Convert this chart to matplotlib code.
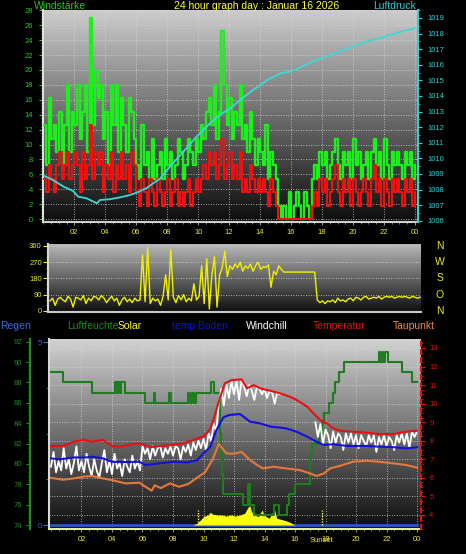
import numpy as np
import matplotlib
matplotlib.use("Agg")
import matplotlib.pyplot as plt
from matplotlib.ticker import MultipleLocator, FixedLocator
from matplotlib.transforms import blended_transform_factory as blend

plt.rcParams['font.family'] = ['Liberation Sans', 'DejaVu Sans']

# ---------------- data ----------------
hour_ticks = [2, 4, 6, 8, 10, 12, 14, 16, 18, 20, 22, 24]
hour_labels = ['02', '04', '06', '08', '10', '12', '14', '16', '18', '20', '22', '00']

# wind gust (green) / average wind (red), km/h, every 10 minutes
gust = [12.6, 7.2, 16.2, 10.8, 12.6, 9.0,
        14.4, 7.2, 12.6, 18.0, 9.0, 14.4,
        12.6, 18.0, 10.8, 14.4, 18.0, 9.0,
        27.0, 12.6, 19.8, 16.2, 18.0, 10.8,
        14.4, 7.2, 18.0, 12.6, 18.0, 9.0,
        16.2, 12.6, 9.0, 16.2, 14.4, 10.8,
        7.2, 5.4, 12.6, 7.2, 9.0, 5.4,
        10.8, 5.4, 7.2, 9.0, 5.4, 10.8,
        7.2, 9.0, 5.4, 7.2, 10.8, 9.0,
        5.4, 7.2, 10.8, 9.0, 7.2, 10.8,
        9.0, 12.6, 10.8, 14.4, 16.2, 12.6,
        18.0, 10.8, 14.4, 25.2, 18.0, 12.6,
        16.2, 10.8, 14.4, 12.6, 18.0, 10.8,
        12.6, 9.0, 14.4, 10.8, 7.2, 10.8,
        9.0, 7.2, 12.6, 5.4, 9.0, 7.2,
        5.4, 1.8, 0.0, 1.8, 0.0, 3.6,
        0.0, 1.8, 3.6, 1.8, 0.0, 3.6,
        1.8, 0.0, 5.4, 7.2, 5.4, 9.0,
        7.2, 9.0, 5.4, 7.2, 9.0, 10.8,
        7.2, 5.4, 9.0, 7.2, 9.0, 5.4,
        10.8, 7.2, 9.0, 5.4, 7.2, 9.0,
        5.4, 9.0, 10.8, 7.2, 9.0, 5.4,
        10.8, 7.2, 5.4, 9.0, 7.2, 9.0,
        7.2, 5.4, 9.0, 7.2, 9.0, 5.4,
        7.2]
wind_avg = [5.4, 3.6, 7.2, 5.4, 3.6, 7.2,
            9.0, 5.4, 7.2, 9.0, 5.4, 7.2,
            9.0, 7.2, 3.6, 9.0, 5.4, 7.2,
            12.6, 5.4, 9.0, 7.2, 9.0, 3.6,
            7.2, 5.4, 9.0, 3.6, 7.2, 5.4,
            9.0, 5.4, 7.2, 3.6, 9.0, 7.2,
            3.6, 1.8, 5.4, 3.6, 1.8, 5.4,
            3.6, 1.8, 5.4, 3.6, 1.8, 3.6,
            5.4, 1.8, 3.6, 5.4, 1.8, 3.6,
            1.8, 3.6, 5.4, 1.8, 3.6, 5.4,
            3.6, 5.4, 7.2, 5.4, 9.0, 7.2,
            9.0, 5.4, 7.2, 10.8, 5.4, 7.2,
            9.0, 5.4, 7.2, 5.4, 9.0, 3.6,
            5.4, 3.6, 7.2, 5.4, 3.6, 5.4,
            3.6, 5.4, 3.6, 1.8, 5.4, 3.6,
            1.8, 0.0, 0.0, 0.0, 0.0, 0.0,
            0.0, 0.0, 0.0, 0.0, 0.0, 0.0,
            0.0, 0.0, 1.8, 3.6, 1.8, 5.4,
            3.6, 5.4, 1.8, 3.6, 5.4, 7.2,
            3.6, 1.8, 5.4, 3.6, 5.4, 1.8,
            5.4, 3.6, 1.8, 3.6, 5.4, 3.6,
            1.8, 5.4, 7.2, 3.6, 5.4, 1.8,
            5.4, 3.6, 1.8, 5.4, 3.6, 5.4,
            3.6, 1.8, 5.4, 3.6, 5.4, 1.8,
            3.6]

# pressure (hPa)
press_t = [0, 0.63, 1.28, 1.93, 2.25, 2.79, 3.44, 3.65, 4.3, 4.94, 5.59, 6.02,
           6.67, 7.09, 7.53, 8.17, 9.24, 9.9, 10.76, 11.4, 12.07, 12.7, 13.57,
           14.43, 15.3, 15.9, 16.5, 17.37, 18.23, 19.1, 19.96, 20.8, 21.7,
           22.56, 23.4, 24.0]
press_v = [1008.9, 1008.6, 1008.2, 1007.9, 1007.54, 1007.44, 1007.12, 1007.33,
           1007.38, 1007.5, 1007.65, 1007.8, 1008.1, 1008.4, 1008.7, 1009.47,
           1010.65, 1011.4, 1012.25, 1012.8, 1013.2, 1013.74, 1014.4, 1015.0,
           1015.45, 1015.55, 1015.78, 1016.2, 1016.5, 1016.84, 1017.16,
           1017.48, 1017.7, 1017.97, 1018.19, 1018.34]

# wind direction (degrees), every 10 minutes
wind_dir = [55, 70, 30, 65, 75, 60,
            50, 80, 65, 20, 75, 70,
            60, 85, 40, 70, 55, 80,
            75, 60, 85, 70, 45, 65,
            80, 55, 70, 30, 60, 75,
            50, 65, 45, 70, 55, 60,
            310, 50, 350, 40, 70, 55,
            65, 30, 80, 200, 60, 340,
            75, 45, 85, 60, 90, 50,
            70, 55, 150, 60, 80, 250,
            40, 290, 10, 200, 300, 20,
            200, 240, 330, 190, 250, 230,
            260, 240, 270, 220, 250, 235,
            260, 220, 250, 270, 230, 245,
            240, 255, 130, 220, 200, 250,
            230, 215, 215, 215, 215, 215,
            215, 215, 215, 215, 215, 215,
            215, 215, 60, 45, 55, 40,
            55, 50, 60, 45, 70, 55,
            60, 50, 65, 70, 55, 75,
            70, 60, 75, 80, 65, 70,
            75, 70, 80, 65, 75, 80,
            75, 80, 70, 75, 80, 75,
            80, 75, 70, 80, 75, 70,
            75]

# bottom panel
rain_t = [0, 24]
rain_v = [0.0, 0.0]

hum_t = [0, 0.8, 2.67, 4.2, 4.3, 4.4, 4.5, 4.6, 4.85, 6.16, 6.75, 6.85, 7.75,
         7.85, 9.0, 9.1, 9.25, 9.35, 9.5, 10.5, 10.7, 11.05, 11.1, 11.15, 11.2,
         11.3, 12.6, 12.95, 13.05, 13.3, 14.6, 14.95, 15.45, 15.6, 16.0, 16.95,
         17.0, 17.05, 17.1, 17.6, 17.75, 17.9, 18.2, 18.5, 18.6, 18.9, 19.2,
         21.5, 21.6, 21.7, 21.8, 21.9, 22.1, 23.0, 23.65, 24.0]
hum_v = [89, 88, 87, 88, 87, 88, 87, 88, 87, 86, 87, 86, 87,
         86, 87, 86, 87, 86, 87, 88, 87, 85, 83, 81, 79,
         77, 76, 78, 76, 75, 76, 75, 76, 77, 78, 79,
         80, 81, 82, 83, 84, 85, 86, 87, 88, 89, 90,
         91, 90, 91, 90, 91, 90, 89, 88, 88]

sol_t = [9.3, 9.6, 9.8, 10.0, 10.3, 10.45, 10.6, 10.9, 11.2, 11.5, 11.8, 12.1,
         12.4, 12.7, 12.95, 13.05, 13.15, 13.35, 13.6, 13.85, 13.95, 14.3, 14.5,
         14.65, 14.8, 15.1, 15.4, 15.7, 15.9, 16.0]
sol_v = [0, 10, 27, 45, 54, 68, 58, 54, 54, 48, 54, 48,
         54, 63, 99, 102, 72, 54, 45, 81, 54, 36, 63,
         84, 36, 30, 23, 13, 4, 0]
sun_events = [9.65, 17.75]

temp_t = [0.0, 0.8, 1.5, 2.1, 2.7, 3.4, 4.0, 4.5, 5.2, 5.8, 6.5, 7.2, 8.0, 8.7,
          9.3, 10.0, 10.4, 10.65, 11.1, 11.4, 11.85, 12.5, 12.85, 13.3, 13.7,
          14.15, 14.6, 15.0, 15.4, 15.9, 16.3, 16.8, 17.2, 17.65, 18.1, 18.5,
          18.95, 19.8, 20.7, 21.5, 22.45, 23.3, 24.0]
temp_v = [7.72, 7.72, 7.95, 8.04, 7.95, 8.04, 7.72, 7.68, 7.8, 7.86, 7.65, 7.72,
          7.78, 7.86, 8.04, 8.22, 8.58, 9.12, 10.37, 11.1, 11.27, 11.31, 10.83,
          11.0, 10.83, 10.74, 10.65, 10.56, 10.45, 10.29, 10.1, 9.84, 9.48,
          9.12, 8.94, 8.67, 8.54, 8.49, 8.44, 8.36, 8.36, 8.49, 8.54]

soil_t = [0, 0.6, 1.5, 2.3, 2.7, 3.4, 4.0, 4.9, 5.8, 6.2, 7.1, 8.0, 8.9, 9.6,
          10.0, 10.45, 10.85, 11.3, 11.7, 12.4, 13.05, 13.7, 14.4, 14.9, 15.4,
          16.1, 16.8, 17.4, 17.9, 18.5, 19.4, 20.7, 21.5, 22.45, 23.3, 24.0]
soil_v = [7.05, 7.0, 7.1, 7.1, 7.14, 7.05, 6.87, 6.85, 6.87, 6.69, 6.78, 6.87,
          6.83, 6.96, 7.32, 7.68, 8.58, 9.26, 9.39, 9.44, 9.03, 8.94, 8.76,
          8.72, 8.67, 8.49, 8.22, 7.95, 7.77, 7.81, 7.72, 7.72, 7.68, 7.65,
          7.59, 7.65]

dew_t = [0, 0.8, 1.5, 2.1, 2.7, 3.4, 4.0, 4.9, 5.8, 6.2, 6.6, 6.8, 7.2, 7.8,
         8.4, 9.0, 9.7, 10.1, 10.6, 11.0, 11.5, 12.0, 12.5, 13.05, 13.5, 13.9,
         14.6, 15.4, 16.3, 17.0, 17.4, 17.9, 18.3, 18.95, 19.8, 20.7, 21.5,
         22.45, 23.3, 24.0]
dew_v = [6.0, 5.9, 5.97, 6.06, 6.1, 5.97, 5.88, 5.7, 5.74, 5.52, 5.31, 5.6,
         5.45, 5.7, 5.52, 5.67, 6.08, 6.3, 7.0, 7.83, 7.32, 7.3, 7.4, 6.96,
         6.7, 6.51, 6.6, 6.51, 6.42, 6.24, 6.1, 6.24, 6.51, 6.65, 6.87, 6.92,
         6.87, 6.78, 6.69, 6.55]

nan = float('nan')
windchill = [6.6, 7.4, 6.3, 6.9, 6.4, 7.6,
             6.5, 7.0, 6.2, 6.8, 7.7, 6.4,
             6.9, 6.3, 7.3, 6.6, 6.1, 7.0,
             6.4, 6.0, 6.8, 7.5, 6.3, 6.9,
             6.2, 7.3, 6.5, 6.8, 6.1, 7.0,
             6.6, 6.3, 7.2, 6.5, 6.9, 6.4,
             7.7, 7.3, 7.6, 7.0, 7.7, 7.2,
             7.6, 7.7, 7.1, 7.6, 7.3, 7.7,
             7.2, 7.7, 7.6, 7.0, 7.7, 7.4,
             7.8, 7.2, 7.9, 7.5, 8.0, 7.6,
             8.1, 7.5, 8.4, 8.0, 8.9, 8.5,
             10.0, 10.8, 9.9, 11.0, 10.3, 11.2,
             10.5, 11.2, 10.2, 11.3, 10.9, 10.4,
             11.0, 10.7, 10.2, 10.9, 10.8, 10.5,
             10.8, 10.3, 10.7, 10.6, 10.0, 10.6,
             10.5, nan, nan, nan, nan, nan,
             nan, nan, nan, nan, nan, nan,
             nan, nan, 9.0, 8.2, 8.9, 7.8,
             8.6, 8.3, 7.6, 8.5, 7.9, 8.4,
             8.2, 7.5, 8.4, 7.9, 8.4, 7.8,
             8.3, 7.6, 8.3, 8.0, 7.7, 8.3,
             7.9, 8.3, 7.4, 8.2, 7.8, 8.3,
             7.7, 8.2, 8.0, 7.5, 8.3, 7.9,
             8.4, 7.8, 8.4, 7.6, 8.5, 8.2,
             8.5]

dir_labels = ['N', 'W', 'S', 'O', 'N']
dir_ticks = [360, 270, 180, 90, 0]

legend_names = ['Regen', 'Luftfeuchte', 'Solar', 'temp Boden', 'Windchill', 'Temperatur', 'Taupunkt']
legend_colors = ['#3a6ad8', '#1f8a1f', '#ffff20', '#1010e0', '#ffffff', '#e01010', '#f08848']
legend_x = [0, 67, 118, 172, 246, 313, 393]

# ---------------- layout ----------------
W, H = 466, 554
fig = plt.figure(figsize=(W / 100, H / 100), dpi=100, facecolor='black')


def rect(x0, y0, x1, y1):
    return [x0 / W, 1 - y1 / H, (x1 - x0) / W, (y1 - y0) / H]


def gradient(ax, top, bottom):
    g = np.linspace(bottom, top, 256).reshape(-1, 1)
    ax.imshow(g, cmap='gray', vmin=0, vmax=1, origin='lower', extent=(0, 1, 0, 1),
              transform=ax.transAxes, aspect='auto', zorder=0, interpolation='bilinear')


def spines_only(ax, **kw):
    for k, s in ax.spines.items():
        if k in kw:
            s.set_visible(True)
            s.set_color(kw[k])
            s.set_linewidth(1.5)
        else:
            s.set_visible(False)


GRID = dict(color='#d8d8d8', lw=0.6, ls=(0, (1, 2)))
t10 = np.arange(len(gust)) / 6.0
PX = 72 / 100  # points per pixel

# ---------- top panel: wind + pressure ----------
ax1 = fig.add_axes(rect(43, 10, 418, 222))
ax1.set_facecolor('black')
gradient(ax1, 0.80, 0.05)
ax1.plot(t10, gust, drawstyle='steps-post', color='#1cf01c', lw=1.7, zorder=3)
ax1.plot(t10, wind_avg, drawstyle='steps-post', color='#f01010', lw=1.5, zorder=4)
ax1.set_xlim(-0.03, 24.2)
ax1.set_ylim(-0.4, 28.05)
ax1.set_yticks(np.arange(0, 29, 2))
ax1.yaxis.set_minor_locator(MultipleLocator(0.4))
ax1.set_xticks(hour_ticks, hour_labels)
ax1.xaxis.set_minor_locator(MultipleLocator(0.5))
ax1.grid(True, which='major', **GRID)
ax1.tick_params(axis='y', which='major', colors='#22cc22', labelsize=5.5, length=3, width=0.8, pad=4)
ax1.tick_params(axis='y', which='minor', colors='#22cc22', length=1.5, width=0.6)
ax1.tick_params(axis='x', which='major', colors='#909090', labelcolor='#e8e830', labelsize=5.5,
                length=2.5, pad=2.5)
ax1.tick_params(axis='x', which='minor', colors='#909090', length=1.5)
spines_only(ax1, left='#e0e0e0', bottom='#d0d0d0')

ax1r = ax1.twinx()
ax1r.plot(press_t, press_v, color='#3cd8d8', lw=1.3)
ax1r.set_ylim(1005.92, 1019.51)
ax1r.set_yticks(range(1006, 1020))
ax1r.yaxis.set_minor_locator(MultipleLocator(0.5))
ax1r.tick_params(axis='y', which='major', colors='#30d0d0', labelsize=5.5, length=3, pad=4)
ax1r.tick_params(axis='y', which='minor', colors='#30d0d0', length=1.5)
spines_only(ax1r, right='#30d0d0')

ty = 1 - 6 / H
fig.text(34 / W, ty, 'Windstärke', color='#22cc22', fontsize=7.5, ha='left', va='center')
fig.text(257 / W, ty, '24 hour graph day : Januar 16 2026', color='#ffff33', fontsize=7.5,
         ha='center', va='center')
fig.text(416 / W, ty, 'Luftdruck', color='#33cccc', fontsize=7.5, ha='right', va='center')

# ---------- middle panel: wind direction ----------
ax2 = fig.add_axes(rect(48, 244, 421, 312))
gradient(ax2, 0.72, 0.06)
ax2.plot(t10, wind_dir, color='#f0f000', lw=1.0, zorder=3)
ax2.set_xlim(-0.13, 24.06)
ax2.set_ylim(-7, 371)
ax2.set_yticks([0, 90, 180, 270, 360])
ax2.yaxis.set_minor_locator(MultipleLocator(30))
ax2.set_xticks([])
ax2.grid(True, axis='y', **GRID)
ax2.tick_params(axis='y', which='major', colors='#e8e830', labelsize=5.5, length=3.5, pad=1)
ax2.tick_params(axis='y', which='minor', colors='#a0a040', length=1.5)
spines_only(ax2, left='#d8d8d8', bottom='#c8c8c8')
for lab, v in zip(dir_labels, dir_ticks):
    ax2.text((440 - 48) / 373, v, lab, transform=blend(ax2.transAxes, ax2.transData),
             color='#e8e830', fontsize=7.5, ha='center', va='center')

# ---------- legend row ----------
ly = 1 - 326 / H
for name, col, x in zip(legend_names, legend_colors, legend_x):
    fig.text(x / W, ly, name, color=col, fontsize=7.5, ha='left', va='center')

# ---------- bottom panel ----------
ax3 = fig.add_axes(rect(49, 339, 421, 529))
gradient(ax3, 0.82, 0.05)
ax3.plot(rain_t, rain_v, color='#2858c8', lw=2.0, zorder=3)
ax3.set_xlim(-0.13, 24.26)
ax3.set_ylim(-0.109, 5.082)
ax3.set_yticks([0, 5])
ax3.yaxis.set_minor_locator(FixedLocator([1.25, 2.5, 3.75]))
ax3.set_xticks(hour_ticks, hour_labels)
ax3.xaxis.set_minor_locator(MultipleLocator(0.5))
ax3.grid(True, axis='x', which='major', **GRID)
ax3.tick_params(axis='y', which='major', colors='#3a6ad8', labelsize=5.5, length=4, pad=0.8)
ax3.tick_params(axis='y', which='minor', colors='#3a6ad8', length=2)
ax3.tick_params(axis='x', which='major', colors='#909090', labelcolor='#e8e830', labelsize=5.5,
                length=2.5, pad=2.5)
ax3.tick_params(axis='x', which='minor', colors='#909090', length=1.5)
spines_only(ax3, left='#d8d8d8', bottom='#e4eca0')

axS = ax3.twinx()
axS.fill_between(sol_t, sol_v, 0, color='#ffff10', lw=0)
axS.vlines(sun_events, 0, 80, colors='#ffff60', linestyles=(0, (1, 1)), lw=1.0)
axS.set_ylim(-21.5, 1000)
axS.set_yticks([])
spines_only(axS)

axH = ax3.twinx()
axH.yaxis.tick_left()
axH.plot(hum_t, hum_v, drawstyle='steps-post', color='#1f7d1f', lw=1.5)
axH.set_ylim(73.61, 92.265)
axH.set_yticks(range(74, 93, 2))
axH.yaxis.set_minor_locator(MultipleLocator(0.4))
axH.tick_params(axis='y', which='major', colors='#1f8c1f', labelsize=5.5, length=3, pad=3)
axH.tick_params(axis='y', which='minor', colors='#1f8c1f', length=1.5)
spines_only(axH, left='#1f8c1f')
axH.spines['left'].set_position(('outward', 19 * PX))

axT = ax3.twinx()
axT.plot(t10, windchill, color='white', lw=1.3)
axT.plot(dew_t, dew_v, color='#e8783a', lw=1.5)
axT.plot(soil_t, soil_v, color='#1010e0', lw=1.5)
axT.plot(temp_t, temp_v, color='#e81010', lw=1.5)
axT.set_ylim(3.243, 13.485)
axT.set_yticks(range(4, 14))
axT.yaxis.set_minor_locator(MultipleLocator(0.25))
axT.tick_params(axis='y', which='major', colors='#e01010', labelsize=5.5, length=3, pad=3)
axT.tick_params(axis='y', which='minor', colors='#e01010', length=1.2)
spines_only(axT, right='#e01010')
axT.spines['right'].set_linestyle((0, (2, 2)))

# horizontal grid following the temperature scale
hg = blend(ax3.transAxes, axT.transData)
for v in range(4, 14):
    ax3.plot([0, 1], [v, v], transform=hg, zorder=1, **GRID)

ax3.text(17.75, (529 - 540.5) / 190, 'Sunset', transform=blend(ax3.transData, ax3.transAxes),
         color='#e8e830', fontsize=5.5, ha='center', va='center')

fig.savefig('out.png', dpi=100, facecolor='black')
